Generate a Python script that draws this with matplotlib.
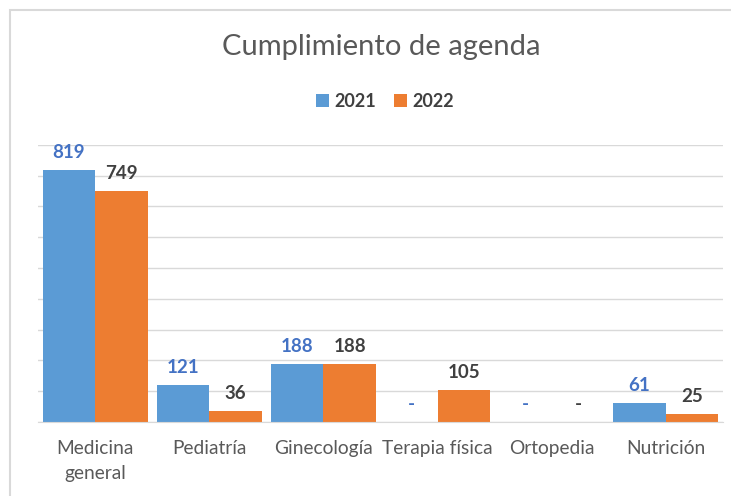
import numpy as np
import matplotlib.pyplot as plt
from matplotlib.patches import Rectangle

plt.rcParams['font.family'] = ['Lato', 'DejaVu Sans']

# -------- DATA --------
categories = ["Medicina\ngeneral", "Pediatría", "Ginecología", "Terapia física", "Ortopedia", "Nutrición"]
v2021 = [819, 121, 188, 0, 0, 61]
v2022 = [749, 36, 188, 105, 0, 25]

BLUE = "#5B9BD5"
ORANGE = "#ED7D31"
TEXT = "#595959"

fig = plt.figure(figsize=(7.31, 4.96), dpi=100)
ax = fig.add_axes([0.052, 0.149, 0.937, 0.559])

x = np.arange(len(categories))
w = 0.46
b1 = ax.bar(x - w / 2, v2021, w, color=BLUE, label="2021")
b2 = ax.bar(x + w / 2, v2022, w, color=ORANGE, label="2022")

# data labels ("-" for zero, like Excel accounting format)
for bars, vals, col in [(b1, v2021, "#4472C4"), (b2, v2022, "#404040")]:
    for r, v in zip(bars, vals):
        ax.annotate(str(v) if v else "-",
                    (r.get_x() + r.get_width() / 2, v),
                    xytext=(0, 6.5), textcoords="offset points",
                    ha="center", va="bottom", fontsize=13.5,
                    fontweight="bold", color=col)

ax.set_xlim(-0.5, len(categories) - 0.5)
ax.set_ylim(0, 900)
ax.set_yticks(np.arange(0, 901, 100))
ax.set_yticklabels([])
ax.tick_params(axis="y", length=0)
ax.tick_params(axis="x", length=0, pad=13)
ax.set_xticks(x)
ax.set_xticklabels(categories, fontsize=13.8, color=TEXT, linespacing=1.55)
ax.grid(axis="y", color="#d9d9d9", linewidth=1)
ax.set_axisbelow(True)
for s in ["top", "right", "left"]:
    ax.spines[s].set_visible(False)
ax.spines["bottom"].set_color("#d9d9d9")

fig.text(0.522, 0.905, "Cumplimiento de agenda", ha="center", va="center",
         fontsize=21, color=TEXT)
fig.legend(loc="center", bbox_to_anchor=(0.527, 0.796), ncol=2, frameon=False,
           handlelength=0.7, handleheight=0.7, handletextpad=0.3,
           columnspacing=1.0, prop={"weight": "bold", "size": 13})
for t in fig.legends[0].get_texts():
    t.set_color("#404040")

# chart frame (cropped on the right/bottom)
fig.patches.append(Rectangle((10 / 731, -0.1), 1.2, 1.1 - 10 / 496,
                             transform=fig.transFigure, fill=False,
                             edgecolor="#d9d9d9", linewidth=1.5))

fig.savefig("out.png", dpi=100)
